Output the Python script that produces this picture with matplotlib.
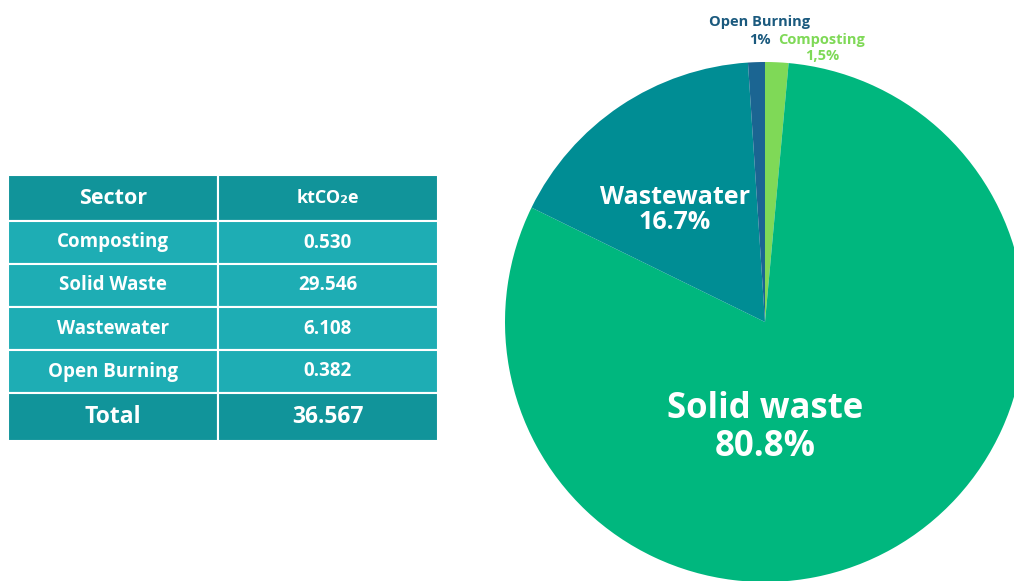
import matplotlib
matplotlib.use('Agg')
import matplotlib.pyplot as plt

plt.rcParams['font.family'] = ['Open Sans', 'DejaVu Sans']

# dados da tabela
sectors = ['Composting', 'Solid Waste', 'Wastewater', 'Open Burning']
emissions = [0.530, 29.546, 6.108, 0.382]
total_label = '36.567'

# dados da pizza (ordem horaria a partir do topo)
pie_values = [0.530, 29.546, 6.108, 0.382]
pie_colors = ['#7fd957', '#00b77e', '#008d94', '#1b6592']

fig = plt.figure(figsize=(10.14, 5.81), dpi=100)
W, H = 1014, 581

# ---- tabela ----
tab_ax = fig.add_axes([0, 0, 1, 1])
tab_ax.axis('off')
rows = [['Sector', 'ktCO₂e']]
rows += [[s, f'{v:.3f}'] for s, v in zip(sectors, emissions)]
rows += [['Total', total_label]]
x0, x1, y0, y1 = 8, 438, 175, 441
tbl = tab_ax.table(cellText=rows, colWidths=[210 / 430, 220 / 430],
                   cellLoc='center',
                   bbox=[x0 / W, 1 - y1 / H, (x1 - x0) / W, (y1 - y0) / H])
tbl.auto_set_font_size(False)
heights = [46, 43, 43, 43, 43, 48]
dark, light = '#11949a', '#1eadb4'
for (r, c), cell in tbl.get_celld().items():
    cell.set_height(heights[r])
    cell.set_edgecolor('white')
    cell.set_linewidth(1.5)
    head = r == 0 or r == len(rows) - 1
    cell.set_facecolor(dark if head else light)
    txt = cell.get_text()
    txt.set_color('white')
    txt.set_fontweight('bold')
    if r == 0:
        txt.set_fontsize(15.5 if c == 0 else 13)
    elif r == len(rows) - 1:
        txt.set_fontsize(16.5)
    else:
        txt.set_fontsize(13.5)

# ---- pizza ----
cx, cy, rad = 765, 322, 260
ax = fig.add_axes([(cx - rad) / W, (H - cy - rad) / H, 2 * rad / W, 2 * rad / H])
ax.pie(pie_values, colors=pie_colors, startangle=90, counterclock=False,
       radius=1.0, wedgeprops=dict(linewidth=0))
ax.set_xlim(-1, 1)
ax.set_ylim(-1, 1)
ax.set_aspect('equal')
ax.axis('off')

ax.text(-0.346, 0.431, 'Wastewater\n16.7%', color='white', fontsize=18,
        fontweight='bold', ha='center', va='center', linespacing=1.0)
ax.text(0.0, -0.408, 'Solid waste\n80.8%', color='white', fontsize=25,
        fontweight='bold', ha='center', va='center', linespacing=1.05)
ax.text(-0.019, 1.154, 'Open Burning', color='#1b5a7e', fontsize=10.5,
        fontweight='bold', ha='center', va='center', clip_on=False)
ax.text(-0.019, 1.085, '1%', color='#1b5a7e', fontsize=10.5,
        fontweight='bold', ha='center', va='center', clip_on=False)
ax.text(0.219, 1.085, 'Composting', color='#7fd957', fontsize=10.5,
        fontweight='bold', ha='center', va='center', clip_on=False)
ax.text(0.219, 1.023, '1,5%', color='#7fd957', fontsize=10.5,
        fontweight='bold', ha='center', va='center', clip_on=False)

fig.savefig('out.png', dpi=100)
